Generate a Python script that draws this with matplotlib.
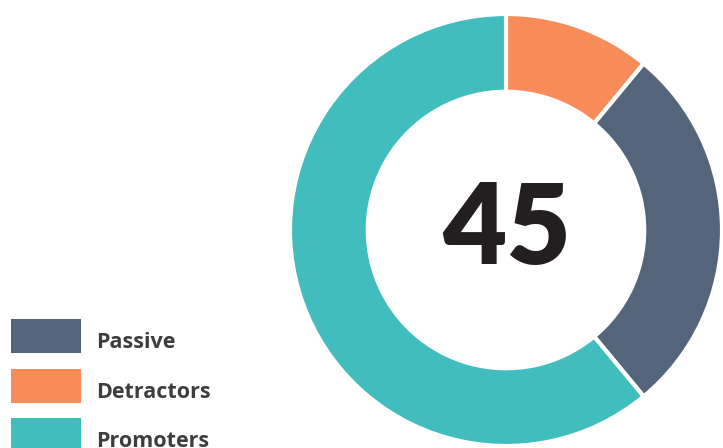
import matplotlib.pyplot as plt
from matplotlib.patches import Rectangle

labels = ["Detractors", "Passive", "Promoters"]
values = [11, 28, 61]
colors = ["#f78b5a", "#53647b", "#40bdbc"]
legend_order = ["Passive", "Detractors", "Promoters"]
nps_score = "45"

W, H = 723, 448
fig = plt.figure(figsize=(W / 100, H / 100), dpi=100)

# donut: centre (506, 230) px, outer radius 216 px
cx, cy, r = 506, 230, 216
ax = fig.add_axes([(cx - r) / W, (H - cy - r) / H, 2 * r / W, 2 * r / H])
ax.pie(values, colors=colors, startangle=90, counterclock=False, radius=1,
       wedgeprops=dict(width=0.36, edgecolor="white", linewidth=3))
ax.set_xlim(-1, 1)
ax.set_ylim(-1, 1)
ax.set_aspect("equal")
ax.axis("off")

ax.text(0.005, -0.005, nps_score, ha="center", va="center", fontsize=80,
        fontweight="heavy", family=["Lato", "DejaVu Sans"], color="#231f20")

# legend drawn by hand
col = dict(zip(labels, colors))
for i, name in enumerate(legend_order):
    top = 319 + i * 49.5
    fig.add_artist(Rectangle((11 / W, (H - top - 34) / H), 70 / W, 34 / H,
                             transform=fig.transFigure, color=col[name], lw=0))
    fig.text(96 / W, (H - top - 29) / H, name, ha="left", va="baseline",
             fontsize=15.5, fontweight="bold", family=["Open Sans", "DejaVu Sans"],
             color="#3d3d3d")

fig.savefig("out.png", dpi=100)
